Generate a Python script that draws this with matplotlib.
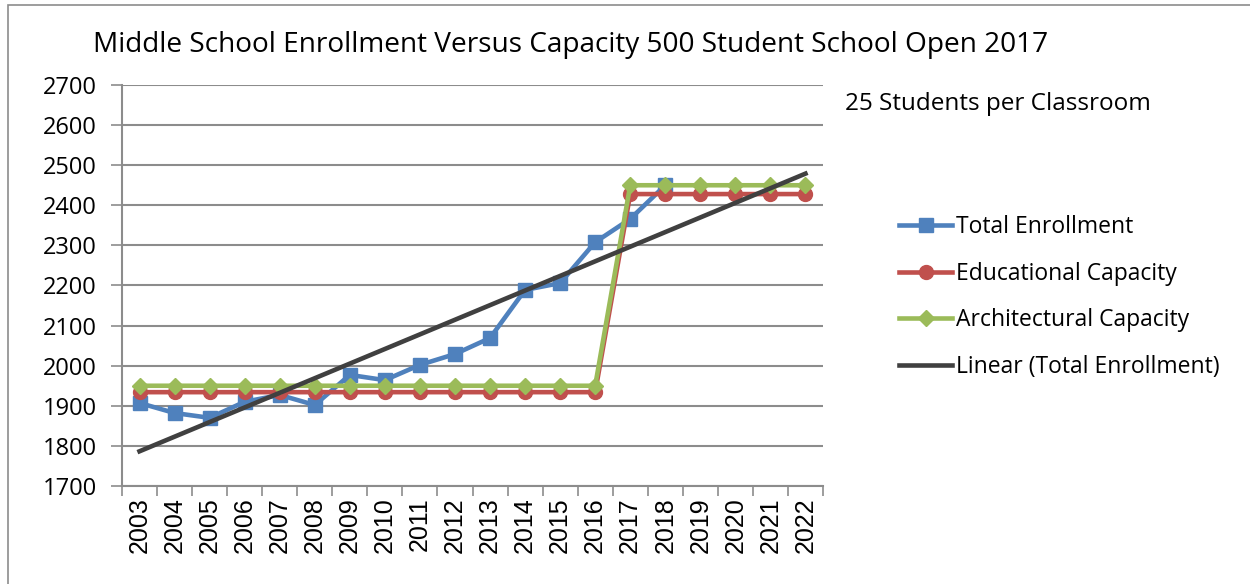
import numpy as np
import matplotlib
matplotlib.use("Agg")
import matplotlib.pyplot as plt
from matplotlib.patches import Rectangle

years = [str(y) for y in range(2003, 2023)]
total_enrollment = [1907, 1882, 1870, 1910, 1927, 1902, 1977, 1964, 2002, 2029,
                    2069, 2189, 2206, 2308, 2366, 2450]
educational_capacity = [1934] * 14 + [2428] * 6
architectural_capacity = [1950] * 14 + [2450] * 6

BLUE = "#4F81BD"
RED = "#C0504D"
GREEN = "#9BBB59"
DARK = "#404040"
GRID = "#8C8C8C"

plt.rcParams["font.family"] = ["Open Sans", "DejaVu Sans"]

fig = plt.figure(figsize=(12.5, 5.84), dpi=100)
ax = fig.add_axes([122 / 1250, 1 - 486 / 584, 701 / 1250, 401 / 584])

# outer chart border
fig.patches.append(Rectangle((8 / 1250, -0.02), 1.1, 1 - 5 / 584 + 0.02,
                             transform=fig.transFigure, fill=False,
                             edgecolor="#8C8C8C", linewidth=1.2))

x_all = np.arange(len(years))
x_enr = np.arange(len(total_enrollment))

ax.plot(x_enr, total_enrollment, color=BLUE, lw=3.3, marker="s", ms=10,
        label="Total Enrollment", zorder=3)
ax.plot(x_all, educational_capacity, color=RED, lw=3.3, marker="o", ms=10,
        label="Educational Capacity", zorder=3)
ax.plot(x_all, architectural_capacity, color=GREEN, lw=3.3, marker="D", ms=8,
        label="Architectural Capacity", zorder=4)

# linear trendline fitted on enrollment, extended to 2022
slope, intercept = np.polyfit(x_enr, total_enrollment, 1)
ax.plot(x_all, slope * x_all + intercept, color=DARK, lw=3.3,
        label="Linear (Total Enrollment)", zorder=5)

ax.set_xlim(-0.5, len(years) - 0.5)
ax.set_ylim(1700, 2700)
ax.set_yticks(range(1700, 2701, 100))
ax.set_xticks(x_all)
ax.set_xticklabels(years, rotation=90, fontsize=18, family="Liberation Sans")
ax.set_xticks(np.arange(-0.5, len(years), 1), minor=True)
ax.tick_params(axis="x", which="major", length=0, pad=8)
ax.tick_params(axis="x", which="minor", length=7, color=GRID, width=1.2)
ax.tick_params(axis="y", length=8, color=GRID, width=1.2, labelsize=17, pad=10)

ax.grid(axis="y", color=GRID, lw=1.5)
ax.set_axisbelow(True)
for s in ["top", "right"]:
    ax.spines[s].set_visible(False)
for s in ["left", "bottom"]:
    ax.spines[s].set_color(GRID)
    ax.spines[s].set_linewidth(1.5)

fig.text(93 / 1250, 1 - 45 / 584, "Middle School Enrollment Versus Capacity 500 Student School Open 2017",
         fontsize=20.2, va="center", ha="left")
fig.text(845 / 1250, 1 - 104 / 584, "25 Students per Classroom",
         fontsize=17.5, va="center", ha="left")

fig.legend(loc="upper left", bbox_to_anchor=(890 / 1250, 1 - 206 / 584),
           frameon=False, fontsize=16.5, handlelength=2.3, handletextpad=0.2,
           labelspacing=0.98, borderaxespad=0)

fig.savefig("out.png", dpi=100)
